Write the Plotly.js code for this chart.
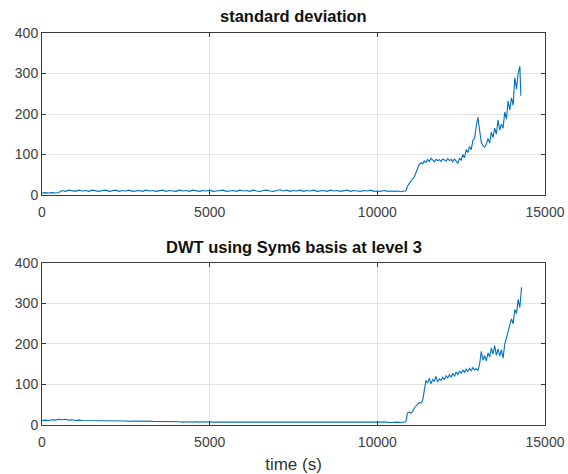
<!DOCTYPE html>
<html>
<head>
<meta charset="utf-8">
<script src="https://cdn.plot.ly/plotly-3.0.1.min.js"></script>
<style>html,body{margin:0;padding:0;background:#fff;}#chart{width:568px;height:474px;}</style>
</head>
<body>
<div id="chart"></div>
<script>
// ---------- data ----------
var titles = ["standard deviation", "DWT using Sym6 basis at level 3"];
var xLabel = "time (s)";
var xTicks = [0, 5000, 10000, 15000];
var yTicks = [0, 100, 200, 300, 400];

// standard deviation series
var stdTime = [0,100,200,300,400,500,600,700,800,900,1000,1100,1200,1300,1400,1500,1600,1700,1800,1900,2000,2100,2200,2300,2400,2500,2600,2700,2800,2900,3000,3100,3200,3300,3400,3500,3600,3700,3800,3900,4000,4100,4200,4300,4400,4500,4600,4700,4800,4900,5000,5100,5200,5300,5400,5500,5600,5700,5800,5900,6000,6100,6200,6300,6400,6500,6600,6700,6800,6900,7000,7100,7200,7300,7400,7500,7600,7700,7800,7900,8000,8100,8200,8300,8400,8500,8600,8700,8800,8900,9000,9100,9200,9300,9400,9500,9600,9700,9800,9900,10000,10100,10200,10300,10400,10500,10600,10700,10800,
  10850,10900,10950,11000,11050,11100,11150,11200,11250,11300,11350,11400,11450,11500,11550,11600,11650,11700,11750,11800,11850,11900,11950,12000,12050,12100,12150,12200,12250,12300,12350,12400,12450,12500,12550,12600,12650,12700,12750,12800,12850,12900,12950,13000,13050,13100,13150,13200,13250,13300,13350,13400,13450,13500,13550,13600,13650,13700,13750,13800,13850,13900,13950,14000,14050,14100,14150,14200,14250,14280];
var stdValue = [5,6,5,6,5,6,11,9,12,10,9,12,10,11,9,12,10,9,11,12,9,10,12,9,11,10,12,9,10,11,9,12,10,11,9,10,12,9,11,10,9,12,10,11,9,12,10,9,11,10,12,9,10,11,12,9,10,11,9,12,10,11,9,12,10,9,11,12,10,9,11,13,10,12,9,11,10,12,9,11,10,12,9,10,11,9,12,10,11,9,10,12,9,11,10,9,11,10,12,9,10,9,11,9,10,9,10,8,10,
  10,22,30,34,40,44,55,68,76,80,77,84,80,88,83,91,86,82,88,85,87,83,89,86,84,90,85,88,82,89,84,78,90,86,100,92,112,105,120,112,135,140,170,192,160,130,122,118,125,140,128,155,142,165,150,185,160,175,165,205,188,232,210,240,222,290,262,300,318,245];

// DWT series
var dwtTime = [0,100,200,300,400,500,600,700,800,900,1000,1100,1200,1300,1400,1500,1600,1700,1800,1900,2000,2100,2200,2300,2400,2500,2600,2700,2800,2900,3000,3100,3200,3300,3400,3500,3600,3700,3800,3900,4000,4100,4200,4300,4400,4500,4600,4700,4800,4900,5000,5100,5200,5300,5400,5500,5600,5700,5800,5900,6000,6100,6200,6300,6400,6500,6600,6700,6800,6900,7000,7100,7200,7300,7400,7500,7600,7700,7800,7900,8000,8100,8200,8300,8400,8500,8600,8700,8800,8900,9000,9100,9200,9300,9400,9500,9600,9700,9800,9900,10000,10100,10200,10300,10400,10500,10600,10700,10800,
  10850,10900,10950,11000,11050,11100,11150,11200,11250,11300,11350,11400,11450,11500,11550,11600,11650,11700,11750,11800,11850,11900,11950,12000,12050,12100,12150,12200,12250,12300,12350,12400,12450,12500,12550,12600,12650,12700,12750,12800,12850,12900,12950,13000,13050,13100,13150,13200,13250,13300,13350,13400,13450,13500,13550,13600,13650,13700,13750,13800,13850,13900,13950,14000,14050,14100,14150,14200,14250,14300];
var dwtValue = [11,12,11,13,12,14,13,14,12,13,11,12,11,11,10,11,10,11,10,10,11,10,10,11,10,10,9,10,10,9,10,9,10,9,9,8,9,8,8,9,8,8,7,8,8,7,8,7,8,7,8,7,7,8,7,8,7,7,8,7,7,8,7,7,8,7,7,8,7,7,8,7,7,8,7,7,7,8,7,7,8,7,7,7,8,7,7,7,8,7,7,7,8,7,7,7,8,7,7,7,8,7,7,7,6,7,7,6,7,
  8,30,32,29,33,42,46,52,55,54,60,85,110,104,115,102,112,108,120,106,114,110,118,112,122,116,124,118,128,120,131,124,133,127,136,130,138,132,140,134,142,136,139,134,150,182,160,172,158,178,168,190,175,196,172,188,170,186,165,200,215,230,245,262,250,285,275,310,290,340];

// ---------- chart ----------
var lineColor = '#0072BD';
var traces = [
  {x: stdTime, y: stdValue, type: 'scatter', mode: 'lines', line: {color: lineColor, width: 1.1}, xaxis: 'x', yaxis: 'y', hoverinfo: 'skip'},
  {x: dwtTime, y: dwtValue, type: 'scatter', mode: 'lines', line: {color: lineColor, width: 1.1}, xaxis: 'x2', yaxis: 'y2', hoverinfo: 'skip'}
];

var fam = 'Liberation Sans, Arial, sans-serif';
var tickFont = {family: fam, size: 14, color: '#404040'};
function xax(anchor) {
  return {
    domain: [0, 1], anchor: anchor, range: [0, 15000], tickvals: xTicks, ticktext: xTicks.map(String),
    showline: true, linecolor: '#3a3a3a', linewidth: 1, mirror: 'ticks', ticks: 'inside', ticklen: 4, tickcolor: '#3a3a3a',
    showgrid: true, gridcolor: '#e3e3e3', gridwidth: 1, zeroline: false, tickfont: tickFont, ticklabelstandoff: 4, fixedrange: true
  };
}
function yax(anchor, dom) {
  return {
    domain: dom, anchor: anchor, range: [0, 400], tickvals: yTicks, ticktext: yTicks.map(String),
    showline: true, linecolor: '#3a3a3a', linewidth: 1, mirror: 'ticks', ticks: 'inside', ticklen: 4, tickcolor: '#3a3a3a',
    showgrid: true, gridcolor: '#e3e3e3', gridwidth: 1, zeroline: false, tickfont: tickFont, fixedrange: true
  };
}

var layout = {
  width: 568, height: 474,
  margin: {l: 42, r: 23, t: 33, b: 49, pad: 0},
  paper_bgcolor: '#ffffff', plot_bgcolor: '#ffffff',
  showlegend: false,
  xaxis: xax('y'),
  yaxis: yax('x', [0.5867, 1]),
  xaxis2: Object.assign(xax('y2'), {title: {text: xLabel, font: {family: fam, size: 17, color: '#333333'}, standoff: 10}}),
  yaxis2: yax('x2', [0, 0.4133]),
  annotations: [
    {text: '<b>' + titles[0] + '</b>', xref: 'paper', yref: 'paper', x: 0.5, y: 1, yshift: 17, xanchor: 'center', yanchor: 'middle', showarrow: false,
     font: {family: fam, size: 16.5, color: '#111111'}},
    {text: '<b>' + titles[1] + '</b>', xref: 'paper', yref: 'paper', x: 0.5, y: 0.4133, yshift: 16, xanchor: 'center', yanchor: 'middle', showarrow: false,
     font: {family: fam, size: 16.5, color: '#111111'}}
  ]
};

Plotly.newPlot('chart', traces, layout, {staticPlot: true, displayModeBar: false});
</script>
</body>
</html>
